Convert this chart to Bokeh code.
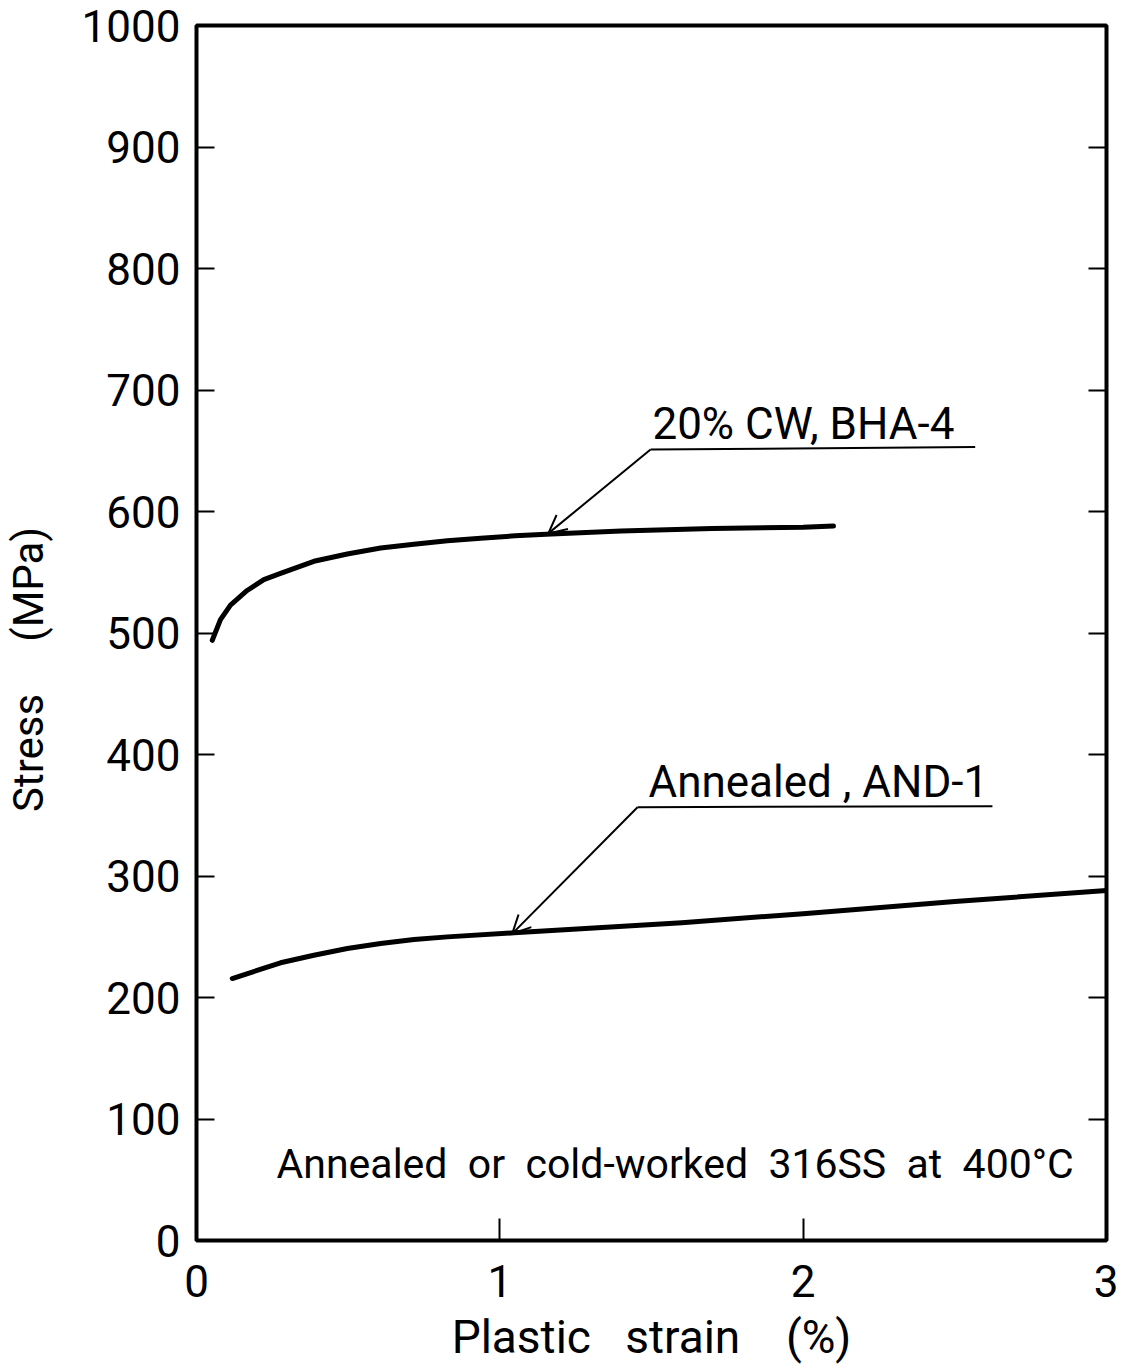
from bokeh.plotting import figure
from bokeh.models import (Range1d, FixedTicker, LinearAxis, Label, Arrow, OpenHead,
                          ColumnDataSource, CustomJSTickFormatter)
from bokeh.embed import file_html
from bokeh.resources import INLINE

# ---- data ----
cw_strain = [0.052, 0.079, 0.112, 0.167, 0.222, 0.277, 0.387, 0.497, 0.607, 0.717,
             0.827, 0.937, 1.05, 1.17, 1.4, 1.7, 2.0, 2.1]
cw_stress = [494, 511, 523, 535, 544, 549, 559, 565, 570, 573,
             576, 578, 580, 581.5, 584, 586, 587, 588]

ann_strain = [0.118, 0.277, 0.387, 0.497, 0.607, 0.717, 0.827, 1.047, 1.6, 2.0, 2.5, 3.0]
ann_stress = [215.6, 228.6, 234.8, 240.3, 244.4, 247.7, 249.9, 253.2, 261.5, 269, 279, 288]

x_ticks = [0, 1, 2, 3]
y_ticks = [0, 100, 200, 300, 400, 500, 600, 700, 800, 900, 1000]

label_cw = "20% CW, BHA-4"
label_ann = "Annealed , AND-1"
note_text = "Annealed\u00a0 or\u00a0 cold-worked\u00a0 316SS\u00a0 at\u00a0 400°C"
x_title = "Plastic\u00a0\u00a0 strain\u00a0\u00a0\u00a0 (%)"
# trailing no-break spaces shift the visible title below the frame centre, as in the reference
y_title = "Stress\u00a0\u00a0\u00a0\u00a0 (MPa)" + "\u00a0" * 7

# annotation anchors (data units)
cw_label_xy = (1.503, 672.4)
cw_leader = (1.497, 651.0, 2.567, 653.0)
cw_tip = (1.160, 582.0)
ann_label_xy = (1.490, 377.4)
ann_leader = (1.454, 356.6, 2.624, 357.5)
ann_tip = (1.041, 252.6)
note_xy = (0.264, 62.6)

FONT = "Roboto"

p = figure(width=1118, height=1367, output_backend="svg", toolbar_location=None,
           x_range=Range1d(0, 3), y_range=Range1d(0, 1000),
           min_border_left=196, min_border_top=25, min_border_right=12, min_border_bottom=127,
           background_fill_color="white", border_fill_color="white")
p.grid.visible = False
p.outline_line_color = "black"
p.outline_line_width = 4

for ax in (p.xaxis[0], p.yaxis[0]):
    ax.axis_line_color = None
    ax.major_tick_out = 0
    ax.minor_tick_line_color = None
    ax.major_tick_line_width = 2
    ax.major_tick_line_color = "black"
    ax.major_label_text_font = FONT
    ax.major_label_text_font_size = "44px"
    ax.major_label_text_color = "black"
    ax.axis_label_text_font = FONT
    ax.axis_label_text_font_style = "normal"
    ax.axis_label_text_color = "black"

p.xaxis[0].ticker = FixedTicker(ticks=x_ticks)
p.xaxis[0].major_tick_in = 22
p.xaxis[0].major_label_standoff = 24
p.xaxis[0].axis_label = x_title
p.xaxis[0].axis_label_text_font_size = "46px"
p.xaxis[0].axis_label_standoff = 10

p.yaxis[0].ticker = FixedTicker(ticks=y_ticks)
p.yaxis[0].major_tick_in = 18
p.yaxis[0].major_label_standoff = 16
p.yaxis[0].axis_label = y_title
p.yaxis[0].axis_label_text_font_size = "42px"
p.yaxis[0].axis_label_standoff = 26

right = LinearAxis(ticker=FixedTicker(ticks=y_ticks), axis_line_color=None,
                   major_tick_in=18, major_tick_out=0, major_tick_line_width=2,
                   minor_tick_line_color=None, major_label_standoff=0,
                   major_label_text_font_size="0px",
                   formatter=CustomJSTickFormatter(code="return ''"))
p.add_layout(right, "right")

# curves
p.line(cw_strain, cw_stress, line_color="black", line_width=5, line_join="round", line_cap="round")
p.line(ann_strain, ann_stress, line_color="black", line_width=5, line_join="round", line_cap="round")

# leader lines (underlines)
lead = ColumnDataSource(dict(x0=[cw_leader[0], ann_leader[0]], y0=[cw_leader[1], ann_leader[1]],
                             x1=[cw_leader[2], ann_leader[2]], y1=[cw_leader[3], ann_leader[3]]))
p.segment(x0="x0", y0="y0", x1="x1", y1="y1", source=lead, line_color="black", line_width=2)

# arrows
for (sx, sy), (tx, ty) in (((cw_leader[0], cw_leader[1]), cw_tip),
                           ((ann_leader[0], ann_leader[1]), ann_tip)):
    p.add_layout(Arrow(x_start=sx, y_start=sy, x_end=tx, y_end=ty,
                       line_color="black", line_width=2,
                       end=OpenHead(size=18, line_width=2, line_color="black")))

# labels
for (lx, ly), txt, fs in ((cw_label_xy, label_cw, "44px"), (ann_label_xy, label_ann, "44px"),
                          (note_xy, note_text, "41px")):
    p.add_layout(Label(x=lx, y=ly, text=txt, text_font=FONT, text_font_size=fs,
                       text_color="black", text_baseline="middle", text_align="left"))

open("out.html", "w").write(file_html(p, INLINE))
